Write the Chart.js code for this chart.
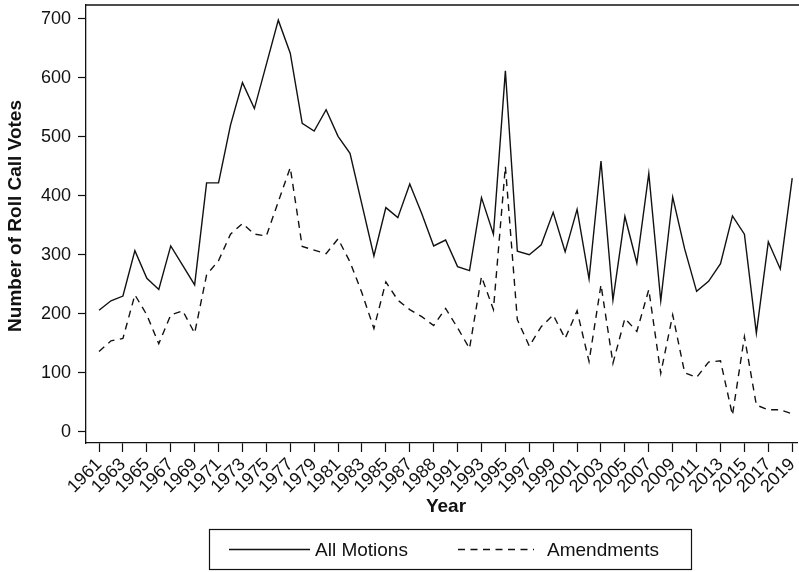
<!DOCTYPE html>
<html>
<head>
<meta charset="utf-8">
<script src="https://cdn.jsdelivr.net/npm/chart.js@4/dist/chart.umd.min.js"></script>
<style>
  html, body { margin: 0; padding: 0; background: #fff; }
  #wrap { width: 799px; height: 572px; position: relative; }
</style>
</head>
<body>
<div id="wrap"><canvas id="c" width="799" height="572"></canvas></div>
<script>
// Roll call votes per year, 1961–2019
const years = [];
for (let y = 1961; y <= 2019; y++) years.push(y);

const allMotions = [
  206, 222, 230, 307, 260, 241, 315, 282, 249, 422,   // 1961-1970
  422, 520, 592, 548, 623, 698, 642, 523, 510, 546,   // 1971-1980
  501, 472, 385, 298, 380, 363, 420, 370, 315, 325,   // 1981-1990
  280, 273, 397, 335, 612, 306, 300, 317, 372, 305,   // 1991-2000
  377, 259, 459, 223, 365, 286, 438, 222, 398, 310,   // 2001-2010
  238, 255, 285, 366, 335, 167, 322, 276, 430         // 2011-2019
];

const amendments = [
  136, 154, 158, 232, 198, 149, 198, 205, 167, 266,   // 1961-1970
  290, 335, 353, 335, 332, 390, 448, 314, 308, 302,   // 1971-1980
  327, 288, 235, 175, 254, 223, 207, 195, 180, 209,   // 1981-1990
  176, 141, 263, 207, 450, 190, 145, 178, 198, 158,   // 1991-2000
  205, 119, 249, 116, 192, 170, 241, 99, 198, 100,    // 2001-2010
  92, 118, 120, 28, 161, 45, 37, 37, 30               // 2011-2019
];

const tickYears = [];
for (let y = 1961; y <= 2019; y += 2) tickYears.push(y);
const tickLabels = [
  '1961','1963','1965','1967','1969','1971','1973','1975','1977','1979',
  '1981','1983','1985','1987','1988','1991','1993','1995','1997','1999',
  '2001','2003','2005','2007','2009','2011','2013','2015','2017','2019'
];
const yTicks = [0, 100, 200, 300, 400, 500, 600, 700];

const seriesNames = ['All Motions', 'Amendments'];
const FONT = '"Liberation Sans", Arial, Helvetica, sans-serif';
const INK = '#111';

const frame = {
  id: 'frame',
  afterDraw(chart) {
    const { ctx, chartArea } = chart;
    ctx.save();
    // top edge of the plot region
    ctx.strokeStyle = INK;
    ctx.lineWidth = 1.3;
    ctx.beginPath();
    ctx.moveTo(chartArea.left - 0.65, chartArea.top);
    ctx.lineTo(799, chartArea.top);
    ctx.stroke();

    // axis titles
    ctx.fillStyle = INK;
    ctx.font = 'bold 19px ' + FONT;
    ctx.textAlign = 'center';
    ctx.textBaseline = 'middle';
    ctx.fillText('Year', 446, 507);
    ctx.save();
    ctx.translate(16, 216);
    ctx.rotate(-Math.PI / 2);
    ctx.fillText('Number of Roll Call Votes', 0, 0);
    ctx.restore();

    // legend
    const bx = 209.5, by = 529.5, bw = 482, bh = 40;
    ctx.lineWidth = 1.2;
    ctx.strokeStyle = INK;
    ctx.strokeRect(bx, by, bw, bh);
    const ly = by + bh / 2;
    ctx.lineWidth = 1.3;
    ctx.beginPath();
    ctx.moveTo(229, ly);
    ctx.lineTo(310, ly);
    ctx.stroke();
    ctx.setLineDash([7, 5.5]);
    ctx.beginPath();
    ctx.moveTo(458, ly);
    ctx.lineTo(534, ly);
    ctx.stroke();
    ctx.setLineDash([]);
    ctx.font = '19px ' + FONT;
    ctx.textAlign = 'left';
    ctx.fillText(seriesNames[0], 315, ly + 1);
    ctx.fillText(seriesNames[1], 547, ly + 1);
    ctx.restore();
  }
};

new Chart(document.getElementById('c'), {
  type: 'line',
  data: {
    datasets: [
      {
        label: seriesNames[0],
        data: years.map((x, i) => ({ x, y: allMotions[i] })),
        borderColor: INK,
        borderWidth: 1.4,
        pointRadius: 0,
        tension: 0,
        fill: false
      },
      {
        label: seriesNames[1],
        data: years.map((x, i) => ({ x, y: amendments[i] })),
        borderColor: INK,
        borderWidth: 1.4,
        borderDash: [7, 5.5],
        pointRadius: 0,
        tension: 0,
        fill: false
      }
    ]
  },
  options: {
    responsive: false,
    animation: false,
    devicePixelRatio: 1,
    layout: { padding: { top: 5, right: 2, left: 0, bottom: 0 } },
    plugins: { legend: { display: false }, tooltip: { enabled: false } },
    scales: {
      x: {
        type: 'linear',
        min: 1959.91,
        max: 2019.4,
        afterFit(scale) {
          scale.height = 129;
          scale.paddingLeft = 0;
          scale.paddingRight = 0;
        },
        afterBuildTicks(scale) { scale.ticks = tickYears.map(v => ({ value: v })); },
        grid: { display: true, drawOnChartArea: false, drawTicks: true, tickLength: 9, color: INK, tickWidth: 1.2 },
        border: { display: true, color: INK, width: 1.3 },
        ticks: {
          autoSkip: false,
          maxRotation: 45,
          minRotation: 45,
          padding: 2,
          color: INK,
          font: { family: FONT, size: 18 },
          callback: (v) => tickLabels[tickYears.indexOf(v)]
        }
      },
      y: {
        min: -19.3,
        max: 723.7,
        afterFit(scale) {
          scale.width = 86;
          scale.paddingTop = 0;
          scale.paddingBottom = 0;
        },
        afterBuildTicks(scale) { scale.ticks = yTicks.map(v => ({ value: v })); },
        grid: { display: true, drawOnChartArea: false, drawTicks: true, tickLength: 8, color: INK, tickWidth: 1.2 },
        border: { display: true, color: INK, width: 1.3 },
        ticks: {
          padding: 7,
          color: INK,
          font: { family: FONT, size: 18 },
          callback: (v) => String(v)
        }
      }
    }
  },
  plugins: [frame]
});
</script>
</body>
</html>
